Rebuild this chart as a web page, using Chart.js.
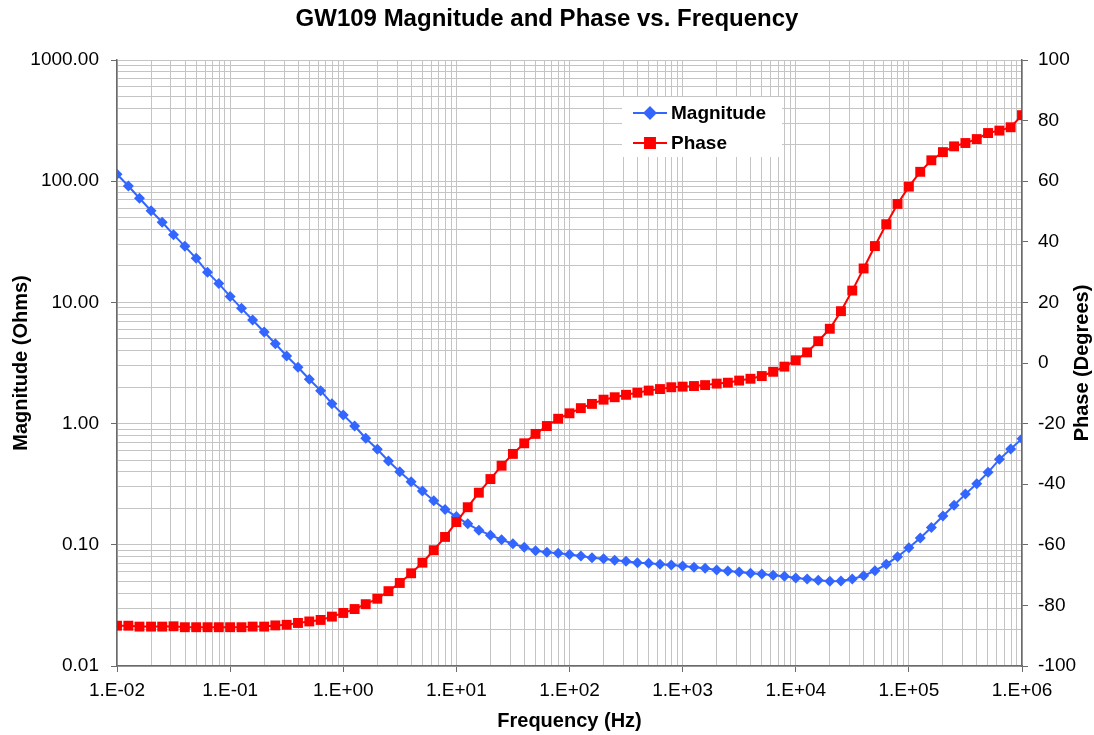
<!DOCTYPE html>
<html>
<head>
<meta charset="utf-8">
<title>GW109 Magnitude and Phase vs. Frequency</title>
<script src="https://cdn.jsdelivr.net/npm/chart.js@4.4.1/dist/chart.umd.min.js"></script>
<style>
  html, body { margin: 0; padding: 0; background: #fff; }
  #chart { display: block; }
</style>
</head>
<body>
<canvas id="chart" width="1094" height="735"></canvas>
<script>
// frequency points (Hz), 10 per decade
const frequencies = [
  1e-2, 1.26e-2, 1.58e-2, 2e-2, 2.51e-2, 3.16e-2, 3.98e-2, 5.01e-2, 6.31e-2, 7.94e-2,
  1e-1, 1.26e-1, 1.58e-1, 2e-1, 2.51e-1, 3.16e-1, 3.98e-1, 5.01e-1, 6.31e-1, 7.94e-1,
  1e0, 1.26e0, 1.58e0, 2e0, 2.51e0, 3.16e0, 3.98e0, 5.01e0, 6.31e0, 7.94e0,
  1e1, 1.26e1, 1.58e1, 2e1, 2.51e1, 3.16e1, 3.98e1, 5.01e1, 6.31e1, 7.94e1,
  1e2, 1.26e2, 1.58e2, 2e2, 2.51e2, 3.16e2, 3.98e2, 5.01e2, 6.31e2, 7.94e2,
  1e3, 1.26e3, 1.58e3, 2e3, 2.51e3, 3.16e3, 3.98e3, 5.01e3, 6.31e3, 7.94e3,
  1e4, 1.26e4, 1.58e4, 2e4, 2.51e4, 3.16e4, 3.98e4, 5.01e4, 6.31e4, 7.94e4,
  1e5, 1.26e5, 1.58e5, 2e5, 2.51e5, 3.16e5, 3.98e5, 5.01e5, 6.31e5, 7.94e5,
  1e6
];

// |Z| in ohms
const magnitude = [
  114, 91.3, 72.3, 57.1, 45.8, 36.2, 29.0, 23.1, 17.7, 14.3,
  11.2, 8.93, 7.16, 5.70, 4.56, 3.61, 2.92, 2.32, 1.87, 1.46,
  1.18, 0.955, 0.757, 0.614, 0.491, 0.401, 0.331, 0.278, 0.231, 0.196,
  0.171, 0.149, 0.132, 0.120, 0.110, 0.102, 0.0953, 0.0894, 0.0870, 0.0851,
  0.0832, 0.0809, 0.0783, 0.0768, 0.0745, 0.0731, 0.0712, 0.0704, 0.0690, 0.0681,
  0.0668, 0.0652, 0.0640, 0.0620, 0.0608, 0.0597, 0.0582, 0.0574, 0.0560, 0.0550,
  0.0532, 0.0522, 0.0509, 0.0500, 0.0502, 0.0522, 0.0556, 0.0611, 0.0690, 0.0798,
  0.0946, 0.114, 0.139, 0.173, 0.212, 0.262, 0.319, 0.396, 0.507, 0.617,
  0.750
];

// phase in degrees
const phase = [
  -86.7, -86.7, -87.0, -87.0, -87.0, -86.9, -87.2, -87.2, -87.2, -87.2,
  -87.2, -87.2, -87.0, -87.0, -86.6, -86.4, -85.8, -85.3, -84.8, -83.7,
  -82.5, -81.2, -79.6, -77.8, -75.3, -72.6, -69.4, -65.9, -61.8, -57.4,
  -52.5, -47.6, -42.8, -38.3, -33.9, -30.0, -26.5, -23.4, -20.8, -18.4,
  -16.6, -14.9, -13.5, -12.1, -11.3, -10.5, -9.8, -9.1, -8.6, -8.0,
  -7.8, -7.6, -7.3, -6.8, -6.5, -5.8, -5.2, -4.3, -2.9, -1.2,
  0.9, 3.5, 7.2, 11.3, 17.1, 23.9, 31.2, 38.6, 45.8, 52.5,
  58.2, 63.1, 66.9, 69.6, 71.5, 72.6, 73.9, 75.9, 76.7, 77.8,
  81.8
];

const freqDecades = [-2, -1, 0, 1, 2, 3, 4, 5, 6];
const magDecades = [-2, -1, 0, 1, 2, 3];
const phaseTicks = [-100, -80, -60, -40, -20, 0, 20, 40, 60, 80, 100];

const FONT = '"Liberation Sans", Arial, sans-serif';
const BLUE = '#3366FF';
const RED = '#FF0000';
const GRID = '#c4c4c4';
const AXIS = '#6a6a6a';

// 1..9 x 10^n ticks, so every minor gridline is drawn
function logTicks(decades) {
  const out = [];
  decades.forEach((e, i) => {
    const last = i === decades.length - 1;
    for (let m = 1; m <= (last ? 1 : 9); m++) {
      out.push({ value: Number((m * Math.pow(10, e)).toPrecision(3)) });
    }
  });
  return out;
}
const isDecade = (v) => Math.abs(Math.log10(v) - Math.round(Math.log10(v))) < 1e-6;

function sciLabel(v) {
  const e = Math.round(Math.log10(v));
  const s = e < 0 ? '-' : '+';
  return '1.E' + s + String(Math.abs(e)).padStart(2, '0');
}

const magPoints = frequencies.map((f, i) => ({ x: f, y: magnitude[i] }));
const phasePoints = frequencies.map((f, i) => ({ x: f, y: phase[i] }));

// axis titles + legend box
const decorations = {
  id: 'decorations',
  afterDraw(chart) {
    const { ctx, chartArea } = chart;
    const midY = (chartArea.top + chartArea.bottom) / 2;
    ctx.save();
    ctx.fillStyle = '#000';
    ctx.font = 'bold 20px ' + FONT;
    ctx.textAlign = 'center';
    ctx.textBaseline = 'middle';
    ctx.fillText('Frequency (Hz)', (chartArea.left + chartArea.right) / 2, 721);

    ctx.save();
    ctx.translate(21, midY);
    ctx.rotate(-Math.PI / 2);
    ctx.fillText('Magnitude (Ohms)', 0, 0);
    ctx.restore();

    ctx.save();
    ctx.translate(1082, midY);
    ctx.rotate(-Math.PI / 2);
    ctx.fillText('Phase (Degrees)', 0, 0);
    ctx.restore();

    // legend
    ctx.fillStyle = '#fff';
    ctx.fillRect(622, 97, 160, 60);
    const items = [
      { label: 'Magnitude', color: BLUE, style: 'rectRot', r: 5.5, y: 113 },
      { label: 'Phase', color: RED, style: 'rect', r: 7, y: 143 }
    ];
    items.forEach((it) => {
      ctx.strokeStyle = it.color;
      ctx.lineWidth = 2;
      ctx.beginPath();
      ctx.moveTo(633, it.y);
      ctx.lineTo(667, it.y);
      ctx.stroke();
      ctx.fillStyle = it.color;
      Chart.helpers.drawPoint(ctx, { pointStyle: it.style, radius: it.r, borderWidth: 1 }, 650, it.y);
      ctx.fill();
      ctx.fillStyle = '#000';
      ctx.textAlign = 'left';
      ctx.font = 'bold 19px ' + FONT;
      ctx.fillText(it.label, 671, it.y + 1);
    });
    ctx.restore();
  }
};

new Chart(document.getElementById('chart'), {
  type: 'line',
  data: {
    datasets: [
      {
        label: 'Phase',
        data: phasePoints,
        yAxisID: 'yPhase',
        borderColor: RED,
        backgroundColor: RED,
        borderWidth: 2,
        pointStyle: 'rect',
        pointRadius: 7,
        pointBorderWidth: 0,
        order: 0
      },
      {
        label: 'Magnitude',
        data: magPoints,
        yAxisID: 'yMag',
        borderColor: BLUE,
        backgroundColor: BLUE,
        borderWidth: 2,
        pointStyle: 'rectRot',
        pointRadius: 5.5,
        pointBorderWidth: 0,
        order: 1
      }
    ]
  },
  options: {
    responsive: false,
    animation: false,
    devicePixelRatio: 1,
    layout: { padding: 0 },
    plugins: {
      legend: { display: false },
      tooltip: { enabled: false },
      title: {
        display: true,
        text: 'GW109 Magnitude and Phase vs. Frequency',
        color: '#000',
        font: { family: FONT, size: 24, weight: 'bold', lineHeight: 1.2 },
        padding: { top: 5, bottom: 26.2 }
      }
    },
    scales: {
      x: {
        type: 'logarithmic',
        min: 0.01,
        max: 1e6,
        afterBuildTicks: (s) => { s.ticks = logTicks(freqDecades); },
        afterFit: (s) => { s.height = 69; },
        grid: {
          color: GRID,
          tickLength: 6,
          tickColor: (c) => (c.tick && isDecade(c.tick.value) ? AXIS : 'rgba(0,0,0,0)')
        },
        border: { color: AXIS, width: 1.5 },
        ticks: {
          autoSkip: false,
          maxRotation: 0,
          padding: 7,
          color: '#000',
          font: { family: FONT, size: 19 },
          callback: (v) => (isDecade(v) ? sciLabel(v) : '')
        }
      },
      yMag: {
        type: 'logarithmic',
        position: 'left',
        min: 0.01,
        max: 1000,
        afterBuildTicks: (s) => { s.ticks = logTicks(magDecades); },
        afterFit: (s) => { s.width = 117; },
        grid: {
          color: GRID,
          tickLength: 6,
          tickColor: (c) => (c.tick && isDecade(c.tick.value) ? AXIS : 'rgba(0,0,0,0)')
        },
        border: { color: AXIS, width: 1.5 },
        ticks: {
          autoSkip: false,
          padding: 12,
          color: '#000',
          font: { family: FONT, size: 19 },
          callback: (v) => (isDecade(v) ? Number(v).toFixed(2) : '')
        }
      },
      yPhase: {
        type: 'linear',
        position: 'right',
        min: -100,
        max: 100,
        afterBuildTicks: (s) => { s.ticks = phaseTicks.map((v) => ({ value: v })); },
        afterFit: (s) => { s.width = 72; },
        grid: { drawOnChartArea: false, tickLength: 6, tickColor: AXIS },
        border: { color: AXIS, width: 1.5 },
        ticks: {
          padding: 10,
          color: '#000',
          font: { family: FONT, size: 19 }
        }
      }
    }
  },
  plugins: [decorations]
});
</script>
</body>
</html>
